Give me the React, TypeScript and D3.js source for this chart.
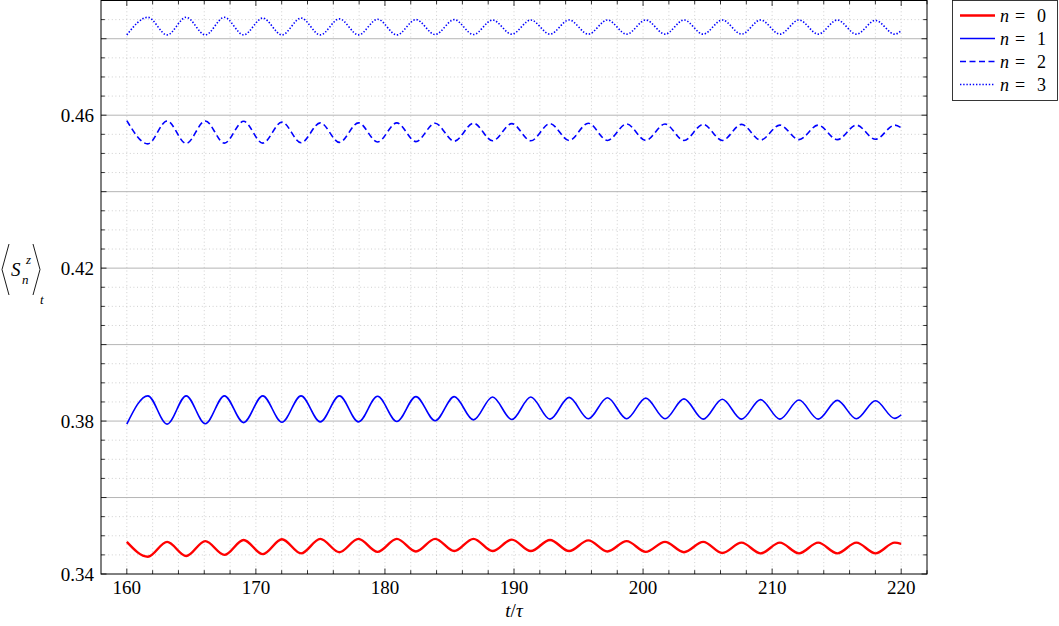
import { useRef, useEffect } from 'react';
import * as d3 from 'd3';

// extrema of the oscillations (red troughs / red peaks alternate)
const times = [
  160, 161.63, 163.12, 164.6, 166.08, 167.56, 169.05, 170.53, 172.02, 173.5, 174.99,
  176.47, 177.95, 179.43, 180.92, 182.4, 183.89, 185.37, 186.86, 188.34, 189.83,
  191.3, 192.79, 194.27, 195.76, 197.24, 198.73, 200.21, 201.7, 203.17, 204.66,
  206.14, 207.63, 209.11, 210.6, 212.08, 213.57, 215.05, 216.53, 218.01, 219.5, 220,
];

const n0 = [
  0.3484, 0.3445, 0.3484, 0.3447, 0.3486, 0.345, 0.3489, 0.3452, 0.3491, 0.3454, 0.3492,
  0.3457, 0.3492, 0.3458, 0.3492, 0.3459, 0.3492, 0.346, 0.3492, 0.346, 0.349,
  0.346, 0.3489, 0.346, 0.3488, 0.3459, 0.3486, 0.3458, 0.3484, 0.3457, 0.3484,
  0.3455, 0.3482, 0.3454, 0.3482, 0.3454, 0.3482, 0.3454, 0.3482, 0.3454, 0.3482, 0.3479,
];

const n1 = [
  0.3792, 0.3866, 0.3792, 0.3866, 0.3793, 0.3866, 0.3796, 0.3866, 0.3797, 0.3866, 0.3798,
  0.3866, 0.3798, 0.3865, 0.3799, 0.3864, 0.3801, 0.3864, 0.3803, 0.3863, 0.3804,
  0.3863, 0.3805, 0.3862, 0.3806, 0.3861, 0.3806, 0.386, 0.3806, 0.3858, 0.3805,
  0.3857, 0.3805, 0.3856, 0.3805, 0.3855, 0.3805, 0.3854, 0.3806, 0.3853, 0.3807, 0.3816,
];

const n2 = [
  0.4586, 0.4525, 0.4585, 0.4526, 0.4585, 0.4527, 0.4584, 0.4527, 0.4582, 0.4528, 0.458,
  0.4529, 0.458, 0.453, 0.458, 0.4531, 0.4579, 0.4532, 0.4579, 0.4533, 0.4578,
  0.4533, 0.4578, 0.4534, 0.4579, 0.4534, 0.4577, 0.4534, 0.4577, 0.4534, 0.4576,
  0.4534, 0.4576, 0.4535, 0.4574, 0.4536, 0.4574, 0.4536, 0.4574, 0.4537, 0.4574, 0.4567,
];

const n3 = [
  0.481, 0.4856, 0.481, 0.4856, 0.481, 0.4856, 0.481, 0.4854, 0.481, 0.4854, 0.481,
  0.4852, 0.481, 0.4851, 0.481, 0.485, 0.4811, 0.485, 0.4811, 0.4849, 0.4812,
  0.4849, 0.4812, 0.4849, 0.4812, 0.4849, 0.4812, 0.4849, 0.4812, 0.4849, 0.4812,
  0.4849, 0.4812, 0.4849, 0.4812, 0.4849, 0.4812, 0.4849, 0.4812, 0.4848, 0.4812, 0.4821,
];

const xTickLabels = [160, 170, 180, 190, 200, 210, 220];
const yTickLabels = [0.34, 0.38, 0.42, 0.46];
const legendLabels = ['0', '1', '2', '3'];

const series = [
  { values: n0, color: '#ff0000', width: 2.4, dash: null },
  { values: n1, color: '#0000ff', width: 1.6, dash: null },
  { values: n2, color: '#0000ff', width: 1.6, dash: '6 3.5' },
  { values: n3, color: '#0000ff', width: 1.6, dash: '1.4 1.8' },
];

const FONT = 'Liberation Serif, DejaVu Serif, Times New Roman, serif';

export default function App() {
  const ref = useRef<SVGSVGElement>(null);

  useEffect(() => {
    const left = 101;
    const right = 927;
    const top = 0.5;
    const bottom = 574;

    const svg = d3.select(ref.current);
    svg.selectAll('*').remove();

    const x = d3.scaleLinear().domain([158, 222]).range([left, right]);
    const y = d3.scaleLinear().domain([0.34, 0.49]).range([bottom, top]);

    const xMinor = d3.range(0, 32).map((i) => 160 + 2 * i);
    const yMinor = d3.range(0, 31).map((i) => 0.34 + 0.005 * i);
    const yMajor = yMinor.filter((_, i) => i % 4 === 0);

    const grid = svg.append('g');
    // vertical dotted grid
    grid
      .selectAll('line.vx')
      .data(xMinor.filter((d) => d < 222))
      .join('line')
      .attr('x1', (d) => x(d))
      .attr('x2', (d) => x(d))
      .attr('y1', top)
      .attr('y2', bottom)
      .attr('stroke', '#c4c4c4')
      .attr('stroke-width', 0.8)
      .attr('stroke-dasharray', '1 2.6');
    // horizontal minor dotted grid
    grid
      .selectAll('line.hy')
      .data(yMinor.filter((_, i) => i % 4 !== 0))
      .join('line')
      .attr('x1', left)
      .attr('x2', right)
      .attr('y1', (d) => y(d))
      .attr('y2', (d) => y(d))
      .attr('stroke', '#c4c4c4')
      .attr('stroke-width', 0.8)
      .attr('stroke-dasharray', '1 2.6');
    // horizontal major solid grid
    svg
      .append('g')
      .selectAll('line')
      .data(yMajor.slice(1))
      .join('line')
      .attr('x1', left)
      .attr('x2', right)
      .attr('y1', (d) => y(d))
      .attr('y2', (d) => y(d))
      .attr('stroke', '#b5b5b5')
      .attr('stroke-width', 1);

    // ticks on all four sides
    const ticks = svg.append('g').attr('stroke', '#000').attr('stroke-width', 0.8);
    xMinor.forEach((d) => {
      const len = d % 10 === 0 ? 5.5 : 3.8;
      ticks.append('line').attr('x1', x(d)).attr('x2', x(d)).attr('y1', bottom).attr('y2', bottom - len);
      ticks.append('line').attr('x1', x(d)).attr('x2', x(d)).attr('y1', top).attr('y2', top + len);
    });
    yMinor.forEach((d, i) => {
      const len = i % 4 === 0 ? 5.5 : 3.8;
      ticks.append('line').attr('x1', left).attr('x2', left + len).attr('y1', y(d)).attr('y2', y(d));
      ticks.append('line').attr('x1', right).attr('x2', right - len).attr('y1', y(d)).attr('y2', y(d));
    });

    // curves
    const line = d3
      .line<number>()
      .x((_, i) => x(times[i]))
      .y((d) => y(d))
      .curve(d3.curveMonotoneX);

    svg
      .append('g')
      .selectAll('path')
      .data(series)
      .join('path')
      .attr('d', (s) => line(s.values))
      .attr('fill', 'none')
      .attr('stroke', (s) => s.color)
      .attr('stroke-width', (s) => s.width)
      .attr('stroke-dasharray', (s) => s.dash)
      .attr('stroke-linejoin', 'round');

    // frame
    svg
      .append('rect')
      .attr('x', left)
      .attr('y', top)
      .attr('width', right - left)
      .attr('height', bottom - top)
      .attr('fill', 'none')
      .attr('stroke', '#000')
      .attr('stroke-width', 1);

    // tick labels
    svg
      .append('g')
      .selectAll('text')
      .data(xTickLabels)
      .join('text')
      .attr('x', (d) => x(d))
      .attr('y', 594)
      .attr('text-anchor', 'middle')
      .attr('font-family', FONT)
      .attr('font-size', 19)
      .text((d) => d);

    svg
      .append('g')
      .selectAll('text')
      .data(yTickLabels)
      .join('text')
      .attr('x', 94)
      .attr('y', (d) => y(d) + 6.6)
      .attr('text-anchor', 'end')
      .attr('font-family', FONT)
      .attr('font-size', 19)
      .text((d) => d3.format('.2f')(d));

    // x label t/τ
    const xl = svg
      .append('text')
      .attr('x', x(190))
      .attr('y', 617)
      .attr('text-anchor', 'middle')
      .attr('font-family', FONT)
      .attr('font-size', 19);
    xl.append('tspan').attr('font-style', 'italic').text('t');
    xl.append('tspan').text('/');
    xl.append('tspan').attr('font-style', 'italic').text('τ');

    // y label ⟨S_n^z⟩_t
    const yl = svg.append('g').attr('font-family', FONT).attr('font-style', 'italic');
    yl.append('path')
      .attr('d', 'M9,244 L2,269.5 L9,295')
      .attr('fill', 'none')
      .attr('stroke', '#000')
      .attr('stroke-width', 0.9);
    yl.append('path')
      .attr('d', 'M33,244 L40,269.5 L33,295')
      .attr('fill', 'none')
      .attr('stroke', '#000')
      .attr('stroke-width', 0.9);
    yl.append('text').attr('x', 11).attr('y', 276).attr('font-size', 19).text('S');
    yl.append('text').attr('x', 26).attr('y', 264).attr('font-size', 13).text('z');
    yl.append('text').attr('x', 22).attr('y', 284).attr('font-size', 13).text('n');
    yl.append('text').attr('x', 40).attr('y', 304).attr('font-size', 13).text('t');

    // legend
    const legend = svg.append('g');
    legend
      .append('rect')
      .attr('x', 952.5)
      .attr('y', 0.5)
      .attr('width', 105)
      .attr('height', 100)
      .attr('fill', '#fff')
      .attr('stroke', '#222')
      .attr('stroke-width', 0.9);

    const item = legend
      .selectAll('g.item')
      .data(series)
      .join('g')
      .attr('transform', (_, i) => `translate(0, ${15.5 + i * 23})`);

    item
      .append('line')
      .attr('x1', 960)
      .attr('x2', 995)
      .attr('stroke', (s) => s.color)
      .attr('stroke-width', (s) => s.width)
      .attr('stroke-dasharray', (s) => s.dash);

    const label = item
      .append('text')
      .attr('y', 6)
      .attr('font-family', FONT)
      .attr('font-size', 18);
    label.append('tspan').attr('x', 1000).attr('font-style', 'italic').text('n');
    label.append('tspan').attr('x', 1015).text('=');
    label.append('tspan').attr('x', 1037).text((_, i) => legendLabels[i]);
  }, []);

  return (
    <svg
      ref={ref}
      width={1059}
      height={626}
      style={{ position: 'absolute', left: 0, top: 0, background: '#fff' }}
    />
  );
}
